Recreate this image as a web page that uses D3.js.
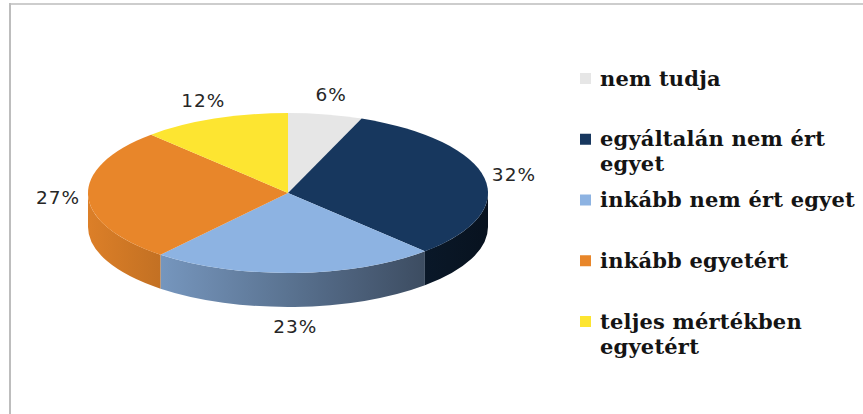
<!DOCTYPE html>
<html>
<head>
<meta charset="utf-8">
<script src="https://cdn.jsdelivr.net/npm/d3@7"></script>
<style>
  html, body { margin: 0; padding: 0; background: #fff; }
  .pctText { font: 18.5px 'DejaVu Sans', sans-serif; fill: #262626; letter-spacing: 1px; }
  .legendText { font: bold 21px 'DejaVu Serif', serif; fill: #141414; letter-spacing: 0.2px; }
</style>
</head>
<body>
<script>
const categories = [
  "nem tudja",
  "egyáltalán nem ért egyet",
  "inkább nem ért egyet",
  "inkább egyetért",
  "teljes mértékben egyetért",
];
const legendLines = [
  ["nem tudja"],
  ["egyáltalán nem ért", "egyet"],
  ["inkább nem ért egyet"],
  ["inkább egyetért"],
  ["teljes mértékben", "egyetért"],
];
const values = [6, 32, 23, 27, 12];
const colors = ["#e6e6e6", "#17375e", "#8db3e2", "#e8862a", "#fde531"];

const width = 863;
const height = 414;

// Measurements
const cx = 288;
const cy = 193;
const rx = 200;
const ry = 80;
const depth = 34;
const labelRx = 230;
const labelRy = 100;

const svg = d3
  .select("body")
  .append("svg")
  .attr("width", width)
  .attr("height", height)
  .attr("viewBox", `0 0 ${width} ${height}`);

const defs = svg.append("defs");

// Frame
svg.append("line")
  .attr("x1", 9).attr("x2", width).attr("y1", 4).attr("y2", 4)
  .attr("stroke", "#bdbdbd").attr("stroke-width", 1.5);
svg.append("line")
  .attr("x1", 10).attr("x2", 10).attr("y1", 3).attr("y2", height)
  .attr("stroke", "#bdbdbd").attr("stroke-width", 2);

const pie = d3.pie().sort(null).value((d) => d)(values);

const pt = (a, dy = 0) => [cx + rx * Math.sin(a), cy - ry * Math.cos(a) + dy];

// Wall shading: lighter on the left, darker on the right
const shade = d3.scaleLinear().domain([cx - rx, cx + rx]).range([0.95, 0.33]);

pie.forEach((d, i) => {
  const g = defs.append("linearGradient")
    .attr("id", `wall${i}`)
    .attr("gradientUnits", "userSpaceOnUse")
    .attr("x1", cx - rx).attr("x2", cx + rx)
    .attr("y1", 0).attr("y2", 0);
  const base = d3.rgb(colors[i]);
  d3.range(0, 1.0001, 0.1).forEach((t) => {
    const x = cx - rx + t * 2 * rx;
    const f = shade(x);
    g.append("stop")
      .attr("offset", t)
      .attr("stop-color", d3.rgb(base.r * f, base.g * f, base.b * f).formatHex());
  });
});

// Side walls (front half only)
const wallPath = (a0, a1) => {
  const p0 = pt(a0), p1 = pt(a1);
  const q0 = pt(a0, depth), q1 = pt(a1, depth);
  return `M${p0}A${rx},${ry} 0 0 1 ${p1}L${q1}A${rx},${ry} 0 0 0 ${q0}Z`;
};

svg.append("g")
  .selectAll("path")
  .data(pie.filter((d) => d.endAngle > Math.PI / 2 && d.startAngle < 1.5 * Math.PI))
  .join("path")
  .attr("d", (d) => wallPath(Math.max(d.startAngle, Math.PI / 2), Math.min(d.endAngle, 1.5 * Math.PI)))
  .attr("fill", (d) => `url(#wall${d.index})`);

// Top face
const topPath = (d) => {
  const p0 = pt(d.startAngle), p1 = pt(d.endAngle);
  const large = d.endAngle - d.startAngle > Math.PI ? 1 : 0;
  return `M${cx},${cy}L${p0}A${rx},${ry} 0 ${large} 1 ${p1}Z`;
};

svg.append("g")
  .selectAll("path")
  .data(pie)
  .join("path")
  .attr("d", topPath)
  .attr("fill", (d) => colors[d.index]);

// Percentage labels
const total = d3.sum(values);
svg.append("g")
  .selectAll("text")
  .data(pie)
  .join("text")
  .attr("class", "pctText")
  .attr("x", (d) => cx + labelRx * Math.sin((d.startAngle + d.endAngle) / 2))
  .attr("y", (d) => {
    const c = Math.cos((d.startAngle + d.endAngle) / 2);
    return cy - labelRy * c + (c < 0 ? -c * depth : 0);
  })
  .attr("text-anchor", "middle")
  .attr("dominant-baseline", "central")
  .text((d) => `${Math.round((d.value / total) * 100)}%`);

// Legend
const legendY = d3.scalePoint().domain(categories).range([78.5, 321.5]);
const legend = svg.append("g")
  .selectAll("g")
  .data(categories)
  .join("g")
  .attr("transform", (d) => `translate(580, ${legendY(d)})`);

legend.append("rect")
  .attr("x", 0).attr("y", -5.5)
  .attr("width", 11).attr("height", 11)
  .attr("fill", (d, i) => colors[i]);

legend.append("text")
  .attr("class", "legendText")
  .attr("x", 20)
  .selectAll("tspan")
  .data((d, i) => legendLines[i])
  .join("tspan")
  .attr("x", 20)
  .attr("y", (d, j) => 7 + j * 25)
  .text((d) => d);
</script>
</body>
</html>
